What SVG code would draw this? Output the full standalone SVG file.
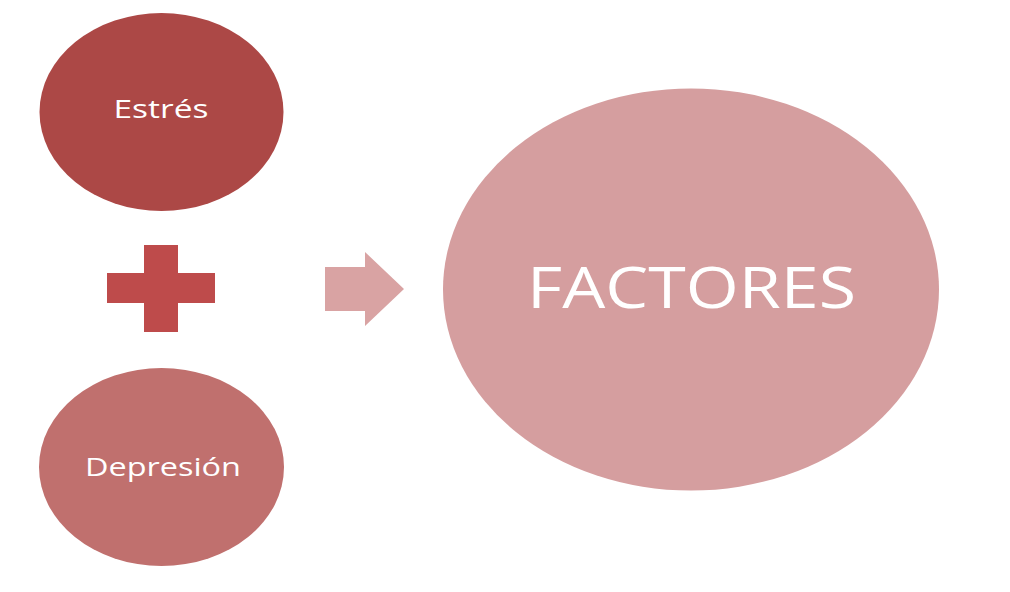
<svg xmlns="http://www.w3.org/2000/svg" width="1010" height="592" viewBox="0 0 1010 592">
<style>
.lbl{font-family:"Open Sans","Liberation Sans",sans-serif;fill:#ffffff;text-anchor:middle}
.sm{font-size:26px}
</style>
<rect width="1010" height="592" fill="#ffffff"/>
<g id="estres">
<ellipse cx="161.5" cy="112" rx="122" ry="99" fill="#AC4846"/>
<text class="lbl sm" x="161" y="118" textLength="95" lengthAdjust="spacingAndGlyphs">Estrés</text>
</g>
<g id="plus">
<rect x="144" y="245" width="34" height="87" fill="#BE4B4B"/>
<rect x="107" y="273" width="108" height="30" fill="#BE4B4B"/>
</g>
<g id="depresion">
<ellipse cx="161.5" cy="467" rx="122.5" ry="99" fill="#C0706E"/>
<text class="lbl sm" x="163" y="476" textLength="156" lengthAdjust="spacingAndGlyphs">Depresión</text>
</g>
<g id="connectors">
<polygon points="325,267 365,267 365,252 404,289 365,326 365,311 325,311" fill="#D9A3A3"/>
</g>
<g id="factores">
<ellipse cx="691" cy="289.5" rx="248" ry="201" fill="#D59E9F"/>
<text class="lbl" x="691.5" y="308" font-size="57" textLength="329" lengthAdjust="spacingAndGlyphs">FACTORES</text>
</g>
</svg>
